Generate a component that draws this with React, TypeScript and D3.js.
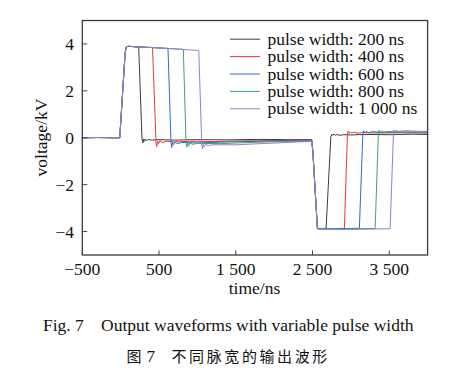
import React from 'react';
import * as d3 from 'd3';

// legend labels, one per trace
const seriesNames = [
  'pulse width: 200 ns',
  'pulse width: 400 ns',
  'pulse width: 600 ns',
  'pulse width: 800 ns',
  'pulse width: 1 000 ns',
];
const seriesColors = ['#3d3d3d', '#e8383d', '#2b6cc0', '#3aa66a', '#9a7cc8'];

// waveforms: [time ns, voltage kV]
const wave200: [number, number][] = [
  [-500, 0], [-300, 0.01], [-100, 0], [-12, 0], [58, 3.6], [72, 3.87], [100, 3.9], [180, 3.88], [235, 3.86],
  [278, -0.05], [290, -0.22], [300, -0.05], [312, -0.15], [325, -0.06], [340, -0.12], [360, -0.07],
  [400, -0.1], [500, -0.08], [700, -0.1], [1000, -0.08], [1400, -0.09], [1800, -0.07], [2200, -0.08],
  [2490, -0.08], [2505, -0.6], [2564, -3.85], [2600, -3.88], [2677, -3.86],
  [2739, 0.04], [2750, 0.15], [2765, 0.1], [2780, 0.16], [2800, 0.1], [2820, 0.14], [2860, 0.1],
  [2900, 0.13], [3000, 0.12], [3200, 0.14], [3500, 0.13], [3800, 0.15], [4000, 0.14],
];
const wave400: [number, number][] = [
  [-500, 0], [-300, 0.01], [-100, 0], [-12, 0], [58, 3.6], [72, 3.87], [100, 3.9], [250, 3.87], [415, 3.85],
  [461, -0.2], [470, -0.38], [480, -0.15], [495, -0.25], [510, -0.12], [540, -0.2], [600, -0.15],
  [700, -0.18], [900, -0.15], [1200, -0.16], [1600, -0.13], [2000, -0.12], [2300, -0.1],
  [2490, -0.1], [2505, -0.6], [2564, -3.87], [2700, -3.88], [2916, -3.86],
  [2955, 0.15], [2965, 0.28], [2980, 0.18], [2995, 0.25], [3010, 0.2], [3040, 0.24], [3080, 0.19],
  [3150, 0.22], [3300, 0.2], [3600, 0.21], [4000, 0.2],
];
const wave600: [number, number][] = [
  [-500, 0], [-300, 0.01], [-100, 0], [-12, 0], [58, 3.6], [72, 3.87], [100, 3.9], [250, 3.87], [500, 3.83], [617, 3.81],
  [656, -0.2], [665, -0.42], [675, -0.2], [690, -0.3], [705, -0.18], [740, -0.25], [800, -0.2],
  [1000, -0.22], [1400, -0.18], [1800, -0.15], [2200, -0.13],
  [2490, -0.12], [2505, -0.6], [2564, -3.87], [2800, -3.88], [3111, -3.86],
  [3156, 0.18], [3165, 0.3], [3180, 0.2], [3200, 0.27], [3230, 0.22], [3280, 0.26], [3400, 0.23],
  [3700, 0.24], [4000, 0.22],
];
const wave800: [number, number][] = [
  [-500, 0], [-300, 0.01], [-100, 0], [-12, 0], [58, 3.6], [72, 3.87], [100, 3.9], [250, 3.87], [500, 3.83], [817, 3.77],
  [852, -0.25], [862, -0.4], [872, -0.22], [885, -0.35], [900, -0.22], [940, -0.28], [1000, -0.24],
  [1300, -0.25], [1700, -0.2], [2100, -0.16],
  [2490, -0.14], [2505, -0.6], [2564, -3.88], [2900, -3.89], [3316, -3.87],
  [3359, 0.2], [3368, 0.32], [3380, 0.22], [3400, 0.3], [3430, 0.24], [3500, 0.27], [3700, 0.25], [4000, 0.24],
];
const wave1000: [number, number][] = [
  [-500, 0], [-300, 0.01], [-100, 0], [-12, 0], [58, 3.6], [72, 3.87], [100, 3.9], [250, 3.87], [500, 3.83], [800, 3.77], [1018, 3.72],
  [1057, -0.3], [1066, -0.48], [1076, -0.25], [1090, -0.4], [1105, -0.28], [1140, -0.33], [1200, -0.3],
  [1500, -0.3], [1900, -0.24], [2300, -0.18],
  [2490, -0.16], [2505, -0.6], [2564, -3.9], [3000, -3.91], [3512, -3.88],
  [3555, 0.22], [3565, 0.34], [3578, 0.26], [3595, 0.32], [3620, 0.27], [3700, 0.3], [3850, 0.28], [4000, 0.27],
];
const waves = [wave200, wave400, wave600, wave800, wave1000];

const xTicks = [-500, 500, 1500, 2500, 3500];
const xTickLabels = ['\u2212500', '500', '1 500', '2 500', '3 500'];
const yTicks = [-4, -2, 0, 2, 4];
const yTickLabels = ['\u22124', '\u22122', '0', '2', '4'];

const serif = '"Liberation Serif", "Times New Roman", serif';
const cjk = '"Noto Sans CJK SC", sans-serif';

export default function App() {
  const left = 82.3, right = 427.6, top = 20.5, bottom = 255;
  const x = d3.scaleLinear().domain([-500, 4000]).range([left, right]);
  const y = d3.scaleLinear().domain([-5, 5]).range([bottom, top]);
  const line = d3.line<[number, number]>().x(d => x(d[0])).y(d => y(d[1]));

  return (
    <svg width={462} height={372} style={{ position: 'absolute', left: 0, top: 0, background: '#fff' }}>
      <defs>
        <clipPath id="plot">
          <rect x={left} y={top} width={right - left} height={bottom - top} />
        </clipPath>
      </defs>

      {/* traces */}
      <g clipPath="url(#plot)">
        {waves.map((w, i) => (
          <path key={i} d={line(w) || ''} fill="none" stroke={seriesColors[i]} strokeWidth={1} strokeLinejoin="round" />
        ))}
      </g>

      {/* frame */}
      <rect x={left} y={top} width={right - left} height={bottom - top} fill="none" stroke="#3a3a3a" strokeWidth={1.3} />

      {/* x axis */}
      {xTicks.map((t, i) => (
        <g key={t}>
          <line x1={x(t)} x2={x(t)} y1={bottom} y2={bottom - 4.5} stroke="#444" strokeWidth={1} />
          <text x={x(t)} y={275} textAnchor="middle" fontFamily={serif} fontSize={17.5} fill="#111">
            {xTickLabels[i]}
          </text>
        </g>
      ))}
      <text x={254.5} y={294} textAnchor="middle" fontFamily={serif} fontSize={17.5} fill="#111">time/ns</text>

      {/* y axis */}
      {yTicks.map((t, i) => (
        <g key={t}>
          <line x1={left} x2={left + 5} y1={y(t)} y2={y(t)} stroke="#444" strokeWidth={1} />
          <text x={74} y={y(t) + 6} textAnchor="end" fontFamily={serif} fontSize={17.5} fill="#111">
            {yTickLabels[i]}
          </text>
        </g>
      ))}
      <text transform="translate(47,137.5) rotate(-90)" textAnchor="middle" fontFamily={serif} fontSize={17.5} fill="#111">
        voltage/kV
      </text>

      {/* legend */}
      {seriesNames.map((name, i) => {
        const ly = 39.2 + i * 17.4;
        return (
          <g key={name}>
            <line x1={230} x2={260} y1={ly} y2={ly} stroke={seriesColors[i]} strokeWidth={1} />
            <text x={267.5} y={ly + 5.5} fontFamily={serif} fontSize={17.5} fill="#111">{name}</text>
          </g>
        );
      })}

      {/* captions */}
      <text x={43} y={330.5} fontFamily={serif} fontSize={17.5} fill="#111">Fig. 7</text>
      <text x={101} y={330.5} fontFamily={serif} fontSize={17.5} fill="#111">Output waveforms with variable pulse width</text>
      <text x={126.5} y={362} fontFamily={cjk} fontSize={15} fill="#111">图</text>
      <text x={146.5} y={362} fontFamily={serif} fontSize={17} fill="#111">7</text>
      <text x={171.5} y={362} fontFamily={cjk} fontSize={15} letterSpacing={2.6} fill="#111">不同脉宽的输出波形</text>
    </svg>
  );
}
